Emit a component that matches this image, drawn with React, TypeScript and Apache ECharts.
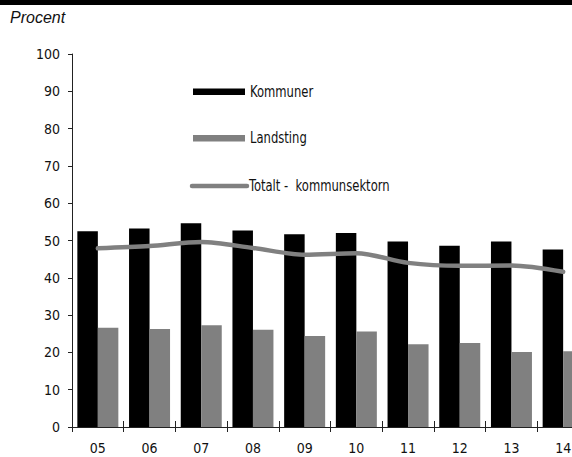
import React, { useEffect, useRef } from "react";
import * as echarts from "echarts";

const categories = ["05", "06", "07", "08", "09", "10", "11", "12", "13", "14"];
const kommuner = [52.5, 53.2, 54.6, 52.7, 51.7, 52.0, 49.7, 48.6, 49.7, 47.6];
const landsting = [26.6, 26.3, 27.3, 26.1, 24.4, 25.6, 22.2, 22.5, 20.1, 20.3];
const totalt = [47.9, 48.5, 49.6, 48.0, 46.2, 46.6, 44.0, 43.2, 43.3, 41.6];
const yTicks = { min: 0, max: 100, interval: 10 };

const FONT = "'Liberation Sans Narrow', 'DejaVu Sans Condensed', 'Arial Narrow', sans-serif";

export default function App() {
  const ref = useRef<HTMLDivElement>(null);
  useEffect(() => {
    if (!ref.current) return;
    const chart = echarts.init(ref.current, null, { renderer: "svg" });
    const axisColor = "#222";
    const legendText = (text: string, x: number, y: number) => ({
      type: "text",
      x,
      y,
      scaleX: 0.86,
      style: { text, fill: "#111", font: `15px ${FONT}`, verticalAlign: "middle" },
    });
    chart.setOption({
      animation: false,
      backgroundColor: "#fff",
      grid: { left: 72, top: 54, width: 517, height: 373, containLabel: false },
      xAxis: [
        {
          type: "category",
          data: categories,
          boundaryGap: true,
          axisLine: { lineStyle: { color: axisColor, width: 1 } },
          axisTick: { show: true, inside: true, length: 6, lineStyle: { color: axisColor } },
          axisLabel: { color: "#111", fontFamily: FONT, fontSize: 14, margin: 14 },
        },
        {
          type: "category",
          data: categories,
          position: "bottom",
          boundaryGap: true,
          axisLine: { show: false },
          axisTick: { show: true, inside: false, length: 5, lineStyle: { color: axisColor } },
          axisLabel: { show: false },
        },
      ],
      yAxis: {
        type: "value",
        min: yTicks.min,
        max: yTicks.max,
        interval: yTicks.interval,
        axisLine: { show: true, lineStyle: { color: axisColor, width: 1 } },
        axisTick: { show: true, inside: false, length: 4, lineStyle: { color: axisColor } },
        splitLine: { show: false },
        axisLabel: { color: "#111", fontFamily: FONT, fontSize: 14, margin: 12 },
      },
      series: [
        {
          name: "Kommuner",
          type: "bar",
          data: kommuner,
          barWidth: 20.5,
          barGap: "0%",
          itemStyle: { color: "#000" },
        },
        {
          name: "Landsting",
          type: "bar",
          data: landsting,
          barWidth: 20.5,
          barGap: "0%",
          itemStyle: { color: "#808080" },
        },
        {
          name: "Totalt -  kommunsektorn",
          type: "line",
          data: totalt,
          smooth: 0.3,
          symbol: "none",
          z: 5,
          lineStyle: { color: "#808080", width: 4.5, cap: "round", join: "round" },
        },
      ],
      graphic: [
        { type: "rect", left: 0, top: 0, shape: { width: 600, height: 5 }, style: { fill: "#000" } },
        {
          type: "text",
          left: 10,
          top: 9,
          style: { text: "Procent", fill: "#111", font: "italic 16px 'Liberation Sans', Arial, sans-serif" },
        },
        { type: "rect", shape: { x: 193, y: 88.5, width: 52, height: 6.5 }, style: { fill: "#000" } },
        legendText("Kommuner", 250, 92),
        { type: "rect", shape: { x: 193, y: 135, width: 52, height: 6.5 }, style: { fill: "#808080" } },
        legendText("Landsting", 250, 138),
        {
          type: "line",
          shape: { x1: 192, y1: 186, x2: 247, y2: 186 },
          style: { stroke: "#808080", lineWidth: 4.5, lineCap: "round" },
        },
        legendText("Totalt -  kommunsektorn", 249, 186),
      ],
    });
    return () => chart.dispose();
  }, []);
  return (
    <div style={{ position: "fixed", left: 0, top: 0, width: 572, height: 457, overflow: "hidden", background: "#fff" }}>
      <div ref={ref} style={{ width: 600, height: 457 }} />
    </div>
  );
}
